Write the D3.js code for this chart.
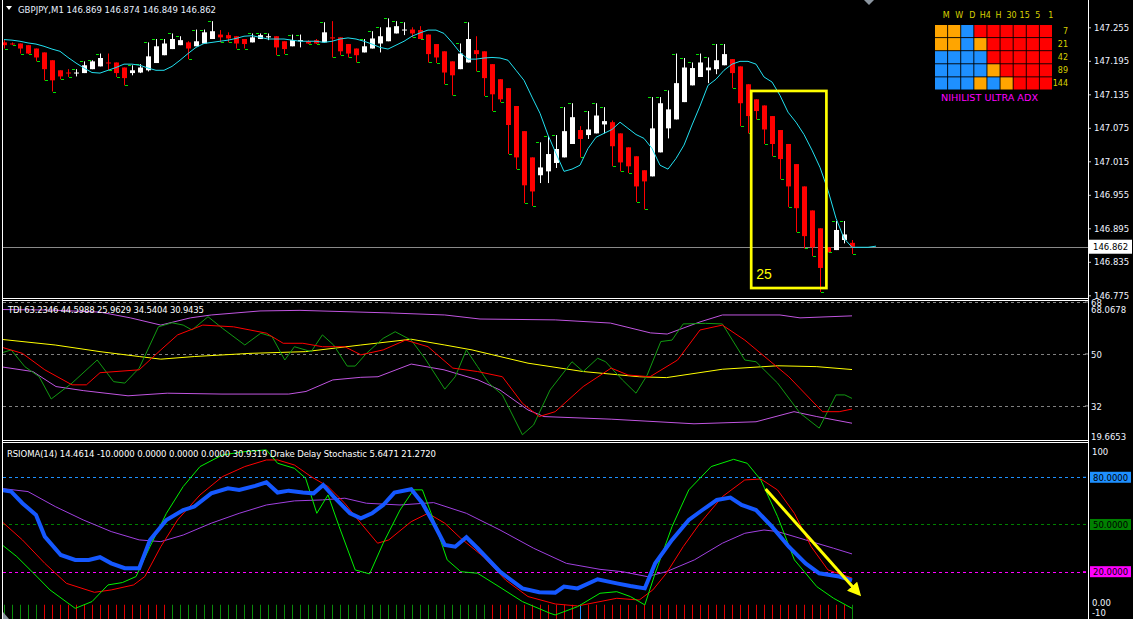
<!DOCTYPE html>
<html><head><meta charset="utf-8">
<script src="https://cdn.jsdelivr.net/npm/d3@7"></script>
<style>
html,body{margin:0;padding:0;background:#000;overflow:hidden}
svg{display:block}
text{font-family:"DejaVu Sans",Tahoma,sans-serif}
</style></head><body><div id="chart"></div>
<script>
// ---- price data (GBPJPY M1) ----
const opens = [147.228,147.226,147.226,147.223,147.217,147.210,147.196,147.178,147.174,147.173,
147.173,147.180,147.185,147.192,147.192,147.183,147.173,147.174,147.178,147.191,
147.205,147.216,147.223,147.228,147.221,147.226,147.234,147.242,147.241,147.239,
147.234,147.228,147.234,147.237,147.239,147.230,147.221,147.230,147.230,147.232,
147.228,147.237,147.237,147.225,147.217,147.210,147.217,147.226,147.230,147.244,
147.250,147.251,147.250,147.242,147.225,147.212,147.194,147.180,147.192,147.214,
147.212,147.189,147.162,147.146,147.114,147.069,147.022,146.990,146.997,147.012,
147.022,147.046,147.071,147.062,147.065,147.081,147.085,147.065,147.040,147.024,
146.999,146.988,147.031,147.074,147.090,147.121,147.151,147.166,147.178,147.180,
147.187,147.198,147.185,147.153,147.126,147.115,147.096,147.071,147.046,147.010,
146.970,146.927,146.895,146.861,146.856,146.874,146.869];
const highs = [147.232,147.228,147.226,147.223,147.217,147.210,147.196,147.178,147.180,147.180,
147.194,147.196,147.208,147.208,147.192,147.183,147.187,147.189,147.228,147.234,
147.234,147.244,147.239,147.230,147.251,147.251,147.266,147.250,147.246,147.239,
147.234,147.244,147.244,147.244,147.239,147.230,147.242,147.242,147.232,147.234,
147.264,147.266,147.237,147.225,147.217,147.234,147.248,147.255,147.271,147.266,
147.264,147.255,147.257,147.242,147.225,147.212,147.194,147.226,147.264,147.239,
147.212,147.189,147.162,147.146,147.114,147.069,147.022,147.049,147.060,147.062,
147.112,147.119,147.078,147.105,147.119,147.112,147.088,147.065,147.040,147.024,
146.999,147.130,147.130,147.142,147.208,147.200,147.192,147.208,147.201,147.225,
147.225,147.198,147.185,147.153,147.126,147.115,147.096,147.071,147.046,147.010,
146.970,146.927,146.895,146.861,146.908,146.908,146.874];
const lows = [147.217,147.223,147.208,147.207,147.194,147.160,147.140,147.162,147.166,147.167,
147.173,147.180,147.185,147.178,147.166,147.151,147.169,147.173,147.176,147.191,
147.205,147.216,147.223,147.198,147.221,147.226,147.234,147.228,147.228,147.217,
147.217,147.228,147.234,147.232,147.205,147.207,147.221,147.219,147.225,147.225,
147.228,147.201,147.205,147.201,147.192,147.210,147.217,147.210,147.230,147.244,
147.241,147.237,147.234,147.192,147.191,147.153,147.133,147.180,147.192,147.176,
147.132,147.105,147.121,147.028,147.001,146.940,146.935,146.976,146.976,147.003,
147.022,147.046,147.022,147.055,147.065,147.065,147.006,146.997,146.994,146.942,
146.929,146.988,147.031,147.056,147.090,147.121,147.151,147.166,147.155,147.171,
147.187,147.146,147.078,147.065,147.090,147.046,147.024,146.983,146.933,146.888,
146.859,146.845,146.781,146.852,146.856,146.868,146.849];
const closes = [147.223,147.225,147.217,147.208,147.201,147.180,147.160,147.167,147.173,147.174,
147.187,147.194,147.200,147.191,147.173,147.164,147.178,147.183,147.203,147.221,
147.226,147.234,147.232,147.217,147.230,147.246,147.248,147.237,147.235,147.226,
147.225,147.237,147.241,147.239,147.219,147.216,147.232,147.232,147.226,147.226,
147.246,147.235,147.212,147.208,147.205,147.221,147.235,147.239,147.255,147.257,
147.251,147.244,147.234,147.207,147.201,147.174,147.169,147.208,147.234,147.207,
147.164,147.135,147.126,147.080,147.022,146.972,146.961,147.004,147.028,147.037,
147.069,147.094,147.055,147.072,147.097,147.087,147.042,147.013,147.006,146.970,
146.979,147.074,147.119,147.108,147.155,147.183,147.182,147.192,147.183,147.196,
147.207,147.173,147.119,147.096,147.105,147.072,147.046,147.019,146.970,146.931,
146.881,146.861,146.824,146.852,146.892,146.884,146.862];
// shifted moving average (runs 3 bars past the last candle)
const maLine = [147.233,147.232,147.230,147.227,147.225,147.221,147.216,147.212,147.201,147.191,
147.182,147.174,147.173,147.178,147.183,147.189,147.189,147.187,147.182,147.178,
147.178,147.185,147.196,147.208,147.219,147.226,147.228,147.230,147.232,147.235,
147.239,147.240,147.237,147.234,147.234,147.234,147.232,147.230,147.230,147.230,
147.228,147.230,147.234,147.236,147.234,147.230,147.225,147.219,147.216,147.223,
147.230,147.239,147.245,147.250,147.250,147.244,147.228,147.210,147.198,147.198,
147.200,147.201,147.200,147.196,147.178,147.160,147.130,147.101,147.062,147.029,
146.997,147.001,147.008,147.038,147.058,147.065,147.072,147.085,147.074,147.063,
147.056,147.038,147.008,147.001,147.020,147.044,147.080,147.114,147.151,147.162,
147.178,147.189,147.194,147.194,147.189,147.166,147.157,147.133,147.103,147.085,
147.063,147.035,147.004,146.963,146.913,146.877,146.861,146.861,146.861,146.863];
const priceTicks = [147.255,147.195,147.135,147.075,147.015,146.955,146.895,146.835,146.775];
const bidPrice = 146.862;

// ---- TDI, points are [bar, value] ----
const tdiUpper = [[-0.5,65.4],[5.8,65.2],[12,64.5],[15.8,62.5],[19.6,60.0],[23.3,62.5],[25.9,63.5],[32,64.9],[37,65.1],[48.3,64.2],[55.1,63.5],[59.5,62.1],[68.9,61.8],[75.8,60.7],[80.8,57.3],[82.9,56.9],[87,61.1],[89.8,63.5],[97,63.5],[99.5,62.5],[106,63.2]];
const tdiLower = [[-0.5,45.6],[3.6,43.9],[6.5,38.7],[9.9,37.3],[15.5,35.5],[20.4,36.4],[27.25,36.1],[35.6,36.1],[37.75,37.0],[41.1,41.0],[44.6,41.9],[46.75,42.1],[50.9,46.5],[55,44.5],[59.25,41.0],[62,37.5],[65.5,30.6],[67.5,28.3],[75.9,27.4],[86.25,25.8],[94,26.5],[98.75,30.0],[101.6,28.3],[106,26.0]];
const tdiMid = [[-0.5,55.1],[6.4,53.1],[12.0,50.8],[16.9,49.1],[19.6,48.2],[23.8,49.1],[30.75,50.2],[37.7,50.8],[44.6,53.1],[50.9,55.1],[55.1,53.1],[58.5,51.4],[65.5,46.8],[72.4,43.9],[79.4,42.1],[82.8,41.8],[89.8,44.7],[96.7,45.9],[101.6,45.6],[106,44.6]];
const tdiPrice = [[-0.5,50.2],[0.9,51.4],[2.6,45.6],[4.4,42.1],[5.9,34.4],[8.5,39.9],[11.65,47.9],[13.7,40.4],[15.1,39.9],[16.9,45.1],[19.3,59.4],[21.0,60.8],[22.4,60.0],[23.5,58.3],[25.5,62.9],[27.3,58.9],[30.1,53.1],[32.1,57.2],[33.5,56.0],[35.1,47.9],[36.3,52.5],[38.4,50.8],[39.8,56.6],[41.2,53.1],[42.9,45.8],[43.9,45.8],[45.3,50.2],[47.4,55.4],[48.9,57.7],[50.9,54.8],[52.6,48.5],[55.1,37.8],[56.4,42.1],[57.8,51.4],[59.2,45.6],[60.6,39.9],[62.3,35.8],[64.8,22.0],[66.2,25.4],[68.25,37.5],[71.0,47.3],[72.4,43.9],[74.2,48.5],[75.2,47.3],[77.3,41.0],[79.0,36.4],[80.4,42.7],[82.1,54.3],[83.5,54.8],[84.9,60.4],[87.7,60.6],[89.8,60.4],[92.6,47.9],[94.0,47.3],[96.7,39.9],[99.5,29.5],[101.9,24.3],[104.0,35.8],[105.1,35.8],[106.0,34.6]];
const tdiSignal = [[-0.5,52.5],[2.3,50.2],[5.1,44.5],[8.5,39.3],[10.3,39.3],[12.0,43.5],[16.9,44.5],[19.6,51.4],[21.7,56.6],[24.85,60.0],[28.7,59.4],[30.75,58.3],[32.8,57.2],[34.9,53.7],[37.35,53.7],[39.8,52.5],[42.6,52.5],[44.6,49.7],[47.4,51.4],[50.2,54.8],[53.0,52.5],[56.1,45.1],[59.2,43.9],[62.3,42.1],[64.8,32.9],[66.9,28.3],[68.9,30.0],[72.4,38.7],[75.9,45.1],[78.0,42.7],[80.75,42.1],[84.2,47.9],[87.0,58.3],[89.8,60.0],[92.6,54.8],[98.1,42.1],[102.3,30.0],[104.4,30.0],[106.0,30.9]];
const tdiLevels = [68, 50, 32];

// ---- RSIOMA / Drake Delay Stochastic, points are [bar, value] ----
const rsiBlue = [[-0.5,72],[0.9,70.9],[2.3,63.5],[4.0,56.1],[5.1,42.3],[7.1,30.6],[8.9,27.5],[10.6,27.5],[12.0,29.2],[13.4,25.3],[15.1,22.2],[16.9,22.2],[18.25,40.2],[20.3,52.9],[22.4,59.2],[23.8,61.4],[25.9,69.8],[28.0,73],[29.4,72],[31.4,74.5],[32.8,76.8],[34.2,70.3],[35.6,71.5],[37.35,70.3],[38.7,69.8],[39.9,75.1],[41.2,67.7],[43.25,57.1],[44.6,53.9],[46.0,57.1],[47.4,62.4],[48.8,70.3],[50.9,72.4],[52.3,63.5],[53.7,50.8],[55.1,37],[56.4,35.9],[57.8,41.9],[59.2,34.9],[62.0,20],[64.8,9.4],[66.9,6.9],[68.9,6.7],[70.0,10.5],[71.7,9.4],[74.2,15.2],[76.6,12.6],[78.3,10.9],[80.1,9.4],[81.4,25.3],[83.5,40.2],[85.6,52.9],[87.3,59.2],[89.1,65.6],[90.8,67.1],[92.2,62.4],[94.0,59.2],[96.0,48.6],[98.1,35.9],[100.2,25.3],[101.9,19],[104.4,16.9],[106.0,14.5]];
const rsiRed = [[-0.5,52.9],[2.3,40.2],[5.1,25.3],[7.8,12.6],[11.3,6.9],[13.4,8.4],[16.2,11.6],[17.6,16.9],[19.6,35.9],[21.7,52.9],[24.5,68.8],[27.3,80.4],[30.1,86.8],[32.8,91],[34.2,91],[36.3,87.8],[38.4,80.4],[40.5,74.1],[42.6,63.5],[44.6,50.8],[46.7,38.1],[48.1,40.2],[50.9,51.8],[53.0,57.1],[55.1,50.8],[57.1,41.2],[59.9,29.6],[62.7,14.7],[65.5,4.2],[68.9,-0.5],[71.7,-1.8],[74.5,1],[76.6,3.1],[79.4,2.0],[81.1,8.4],[82.8,19],[84.9,35.9],[87.0,50.8],[89.8,67.7],[92.6,78.3],[94.6,78.9],[96.7,71.9],[98.8,57.1],[100.9,35.9],[103.0,21.1],[106.0,16]];
const rsiGreen = [[-0.5,38.1],[1.6,29.6],[3.7,19],[5.75,8.4],[8.9,-3.3],[11.0,1],[13.0,11.6],[14.8,13.1],[16.5,16.9],[18.25,35.9],[20.3,57.1],[22.4,74.1],[24.5,86.8],[27.3,94.2],[30.1,96.3],[32.8,97.4],[34.2,88.9],[36.3,85.7],[37.7,79.4],[39.1,57.1],[40.5,68.8],[41.9,48.6],[43.9,21.1],[45.7,18.6],[47.4,38.1],[49.5,59.2],[51.2,72],[52.3,72],[53.7,52.9],[55.4,27.5],[57.1,20],[59.2,19],[62.0,10.1],[64.8,1],[68.25,-6.4],[68.9,-7.5],[71.7,-2.2],[74.5,6.3],[76.6,7.3],[78.3,4.2],[80.1,-1.1],[81.4,19],[83.5,48.6],[85.6,72],[88.4,86.8],[91.2,91.4],[92.9,88.9],[94.6,78.3],[96.7,55],[98.8,27.5],[101.6,10.5],[103.7,3.1],[106.0,-3.3]];
const rsiPurple = [[-0.5,73],[3.0,70.9],[6.4,61.4],[9.9,52.9],[13.4,45.5],[16.9,40.2],[19.6,39.1],[22.4,43.3],[25.9,50.8],[29.4,57.1],[32.8,62.4],[36.3,65],[39.8,65.6],[42.6,66.7],[45.3,63.5],[49.5,62.4],[53.7,63.9],[57.8,57.1],[62.0,46.5],[66.2,34.9],[70.3,25.3],[74.5,21.5],[77.3,20],[80.4,16.9],[82.8,20],[86.3,27.5],[89.8,38.1],[92.6,44.4],[95.0,46.5],[96.7,45.5],[100.2,40.2],[103.7,34.9],[106.0,31.3]];
const rsiLevels = [80, 50, 20];
const rsiLevelColors = ["#1e90ff", "#008000", "#ff00ff"];
// histogram colour per bar: g green, r red, b blue
const histState = "gggggrrrrrrrrrrrrrrrrggggggggggggggggggggggggggggggggggggggggrrrrrrrrrrrbrrrrrrrrrrrrrrrrrrrrrrrrrrrrrrrrr";

// ---- Nihilist Ultra ADX grid ----
const adxFrames = ["M","W","D","H4","H","30","15","5","1"];
const adxPeriods = ["7","21","42","89","144"];
const adxRows = ["OOBRRRRRR","OOBORRRRR","BBBBRRRRR","BBBBORRRR","BBBOBORRR"];
const adxPalette = {O:"#ffa500", B:"#1e90ff", R:"#ff0000"};

// ---- annotations ----
const boxBars = [93.4, 102.8], boxPrices = [147.141, 146.788];
const arrowFrom = [95.2, 72.6], arrowTo = [106.8, 6.3];

const W = 1133, H = 619;
const svg = d3.select("#chart").append("svg").attr("width", W).attr("height", H).style("background", "#000");
const axisX = 1088;

const x = d3.scaleLinear().domain([0, 106]).range([4, 852]);
const yMain = d3.scaleLinear().domain([146.775, 147.255]).range([295.3, 27.3]);
const yTdi = d3.scaleLinear().domain([19.6653, 68.0678]).range([441.5, 301.8]);
const yRsi = d3.scaleLinear().domain([-10, 100]).range([618.9, 445.8]);

const defs = svg.append("defs");
function clip(id, y0, y1) {
  defs.append("clipPath").attr("id", id).append("rect").attr("x", 3).attr("y", y0).attr("width", axisX - 3).attr("height", y1 - y0);
}
clip("cMain", 0, 298); clip("cTdi", 301, 440); clip("cRsi", 443, 619);

// ---------- main panel ----------
const main = svg.append("g").attr("clip-path", "url(#cMain)");
main.append("line").attr("x1", 3).attr("x2", axisX).attr("y1", Math.round(yMain(bidPrice)) + 0.5).attr("y2", Math.round(yMain(bidPrice)) + 0.5)
  .attr("stroke", "#8a8a8a");

const bars = d3.range(opens.length);
const up = i => closes[i] >= opens[i];
main.selectAll(".wick").data(bars).enter().append("line")
  .attr("x1", i => x(i) + 0.5).attr("x2", i => x(i) + 0.5)
  .attr("y1", i => yMain(highs[i])).attr("y2", i => yMain(lows[i]))
  .attr("stroke", i => up(i) ? "#fff" : "#ff0000");
main.selectAll(".body").data(bars).enter().append("rect")
  .attr("x", i => x(i) - 2).attr("width", 5)
  .attr("y", i => yMain(Math.max(opens[i], closes[i])))
  .attr("height", i => Math.max(1, Math.abs(yMain(opens[i]) - yMain(closes[i]))))
  .attr("fill", i => up(i) ? "#fff" : "#ff0000");
// small green marks at the wick tips
main.selectAll(".mark").data(bars).enter().append("line")
  .attr("x1", i => up(i) ? x(i) - 4 : x(i) + 1)
  .attr("x2", i => up(i) ? x(i) - 1 : x(i) + 4)
  .attr("y1", i => Math.round(yMain(up(i) ? highs[i] : lows[i])) + 0.5)
  .attr("y2", i => Math.round(yMain(up(i) ? highs[i] : lows[i])) + 0.5)
  .attr("stroke", "#00e000");

main.append("path").datum(maLine)
  .attr("d", d3.line().x((d, i) => x(i)).y(d => yMain(d)))
  .attr("fill", "none").attr("stroke", "#22e0f0").attr("stroke-width", 1);

// annotation box
main.append("rect")
  .attr("x", x(boxBars[0])).attr("y", yMain(boxPrices[0]))
  .attr("width", x(boxBars[1]) - x(boxBars[0])).attr("height", yMain(boxPrices[1]) - yMain(boxPrices[0]))
  .attr("fill", "none").attr("stroke", "#ffff00").attr("stroke-width", 2.7);
main.append("text").attr("x", x(boxBars[0]) + 5).attr("y", yMain(boxPrices[1]) - 9)
  .attr("fill", "#ffff00").attr("font-size", 14).style("font-family", "Liberation Sans, Arial").text("25");

// header
svg.append("path").attr("d", "M6,6 L12,6 L9,10 Z").attr("fill", "#fff");
svg.append("text").attr("x", 18).attr("y", 13).attr("fill", "#e8f0ff").attr("font-size", 9)
  .attr("textLength", 198).attr("lengthAdjust", "spacingAndGlyphs")
  .text("GBPJPY,M1  146.869 146.874 146.849 146.862");
svg.append("path").attr("d", "M864,0 L874,0 L869,5 Z").attr("fill", "#8c96a0");

// ADX grid
const colBand = d3.scaleBand().domain(adxFrames).range([935, 1052]).paddingInner(0.07);
const rowBand = d3.scaleBand().domain(adxPeriods).range([25, 89.5]).paddingInner(0.07);
adxRows.forEach((row, r) => {
  row.split("").forEach((c, k) => {
    svg.append("rect").attr("x", colBand(adxFrames[k])).attr("y", rowBand(adxPeriods[r]))
      .attr("width", colBand.bandwidth()).attr("height", rowBand.bandwidth()).attr("fill", adxPalette[c]);
  });
});
svg.selectAll(".adxc").data(adxFrames).enter().append("text")
  .attr("x", d => colBand(d) + colBand.bandwidth() / 2 + 5).attr("y", 18)
  .attr("text-anchor", "middle").attr("fill", "#d8d000").attr("font-size", 8).text(d => d);
svg.selectAll(".adxr").data(adxPeriods).enter().append("text")
  .attr("x", 1068).attr("y", d => rowBand(d) + rowBand.bandwidth() / 2 + 3)
  .attr("text-anchor", "end").attr("fill", "#d8d000").attr("font-size", 8).text(d => d);
svg.append("text").attr("x", 941).attr("y", 101).attr("fill", "#ff00ff").attr("font-size", 9)
  .attr("textLength", 97).attr("lengthAdjust", "spacingAndGlyphs").text("NIHILIST ULTRA ADX");

// price axis
const pAxis = svg.append("g").attr("transform", `translate(${axisX},0)`)
  .call(d3.axisRight(yMain).tickValues(priceTicks).tickFormat(d3.format(".3f")).tickSize(3).tickPadding(3));
pAxis.select(".domain").remove();
pAxis.selectAll("line").attr("stroke", "#c8c8c8");
pAxis.selectAll("text").attr("fill", "#f0f4ff").attr("font-size", 8.5).style("font-family", "DejaVu Sans");
const by = yMain(bidPrice);
svg.append("rect").attr("x", 1089).attr("y", by - 7).attr("width", 43).attr("height", 14).attr("fill", "#fff");
svg.append("text").attr("x", 1093).attr("y", by + 3.5).attr("fill", "#000").attr("font-size", 8.5).text("146.862");

// ---------- TDI panel ----------
const tdi = svg.append("g").attr("clip-path", "url(#cTdi)");
tdi.selectAll(".lvl").data(tdiLevels).enter().append("line")
  .attr("x1", 3).attr("x2", axisX).attr("y1", d => Math.round(yTdi(d)) + 0.5).attr("y2", d => Math.round(yTdi(d)) + 0.5)
  .attr("stroke", "#808080").attr("stroke-dasharray", "3,3");
const lTdi = d3.line().x(d => x(d[0])).y(d => yTdi(d[1]));
[[tdiUpper, "#c055e0"], [tdiLower, "#c055e0"], [tdiMid, "#ffff00"], [tdiPrice, "#129a12"], [tdiSignal, "#ff0000"]]
  .forEach(([d, c]) => tdi.append("path").datum(d).attr("d", lTdi).attr("fill", "none").attr("stroke", c).attr("stroke-width", 1));
svg.append("text").attr("x", 8).attr("y", 313).attr("fill", "#fff").attr("font-size", 8.5)
  .attr("textLength", 196).attr("lengthAdjust", "spacing").text("TDI 63.2346 44.5988 25.9629 34.5404 30.9435");
const tdiLabels = [[68, "68", 1], [68.0678, "68.0678", 8], [50, "50", 1], [32, "32", 1], [19.6653, "19.6653", -5]];
tdiLabels.forEach(([v, t, dy]) => {
  svg.append("text").attr("x", 1091).attr("y", yTdi(v) + dy + 3).attr("fill", "#f0f4ff").attr("font-size", 8.5).text(t);
});
tdiLevels.forEach(v => svg.append("line").attr("x1", 1085).attr("x2", 1088).attr("y1", yTdi(v)).attr("y2", yTdi(v)).attr("stroke", "#909090"));

// ---------- RSIOMA panel ----------
const rsi = svg.append("g").attr("clip-path", "url(#cRsi)");
rsi.selectAll(".lvl").data(rsiLevels).enter().append("line")
  .attr("x1", 3).attr("x2", axisX).attr("y1", d => Math.round(yRsi(d)) + 0.5).attr("y2", d => Math.round(yRsi(d)) + 0.5)
  .attr("stroke", (d, i) => rsiLevelColors[i]).attr("stroke-dasharray", "3,3");
rsi.selectAll(".hist").data(bars).enter().append("line")
  .attr("x1", i => x(i) + 0.5).attr("x2", i => x(i) + 0.5)
  .attr("y1", yRsi(-1)).attr("y2", H)
  .attr("stroke", i => histState[i] === "r" ? "#e00000" : histState[i] === "b" ? "#1e90ff" : "#0a8a0a");
const lRsi = d3.line().x(d => x(d[0])).y(d => yRsi(d[1]));
[[rsiPurple, "#a040e0", 1], [rsiRed, "#ff0000", 1], [rsiGreen, "#00f000", 1], [rsiBlue, "#1558ff", 4]]
  .forEach(([d, c, w]) => rsi.append("path").datum(d).attr("d", lRsi).attr("fill", "none").attr("stroke", c).attr("stroke-width", w));
rsi.append("path").attr("d", "M3,612 L3,619 L9,619 Z").attr("fill", "#8c96a0");

// arrow annotation
defs.append("marker").attr("id", "ah").attr("viewBox", "0 0 10 10").attr("refX", 7).attr("refY", 5)
  .attr("markerWidth", 4.5).attr("markerHeight", 4.5).attr("orient", "auto")
  .append("path").attr("d", "M0,0 L10,5 L0,10 Z").attr("fill", "#ffff00");
svg.append("line").attr("x1", x(arrowFrom[0])).attr("y1", yRsi(arrowFrom[1]))
  .attr("x2", x(arrowTo[0])).attr("y2", yRsi(arrowTo[1]))
  .attr("stroke", "#ffff00").attr("stroke-width", 3).attr("marker-end", "url(#ah)");

svg.append("text").attr("x", 7).attr("y", 457).attr("fill", "#fff").attr("font-size", 8.5)
  .attr("textLength", 429).attr("lengthAdjust", "spacing")
  .text("RSIOMA(14) 14.4614 -10.0000 0.0000 0.0000 0.0000 30.9319  Drake Delay Stochastic 5.6471 21.2720");
[[100, "100", 6], [0, "0.00", 0], [-10, "-10", -6]].forEach(([v, t, dy]) => {
  svg.append("text").attr("x", 1092).attr("y", yRsi(v) + dy + 3).attr("fill", "#f0f4ff").attr("font-size", 8.5).text(t);
});
rsiLevels.forEach((v, i) => {
  const yy = yRsi(v);
  svg.append("line").attr("x1", 1083).attr("x2", 1086).attr("y1", yy).attr("y2", yy).attr("stroke", rsiLevelColors[i]);
  svg.append("rect").attr("x", 1090).attr("y", yy - 5.5).attr("width", 41).attr("height", 11).attr("fill", rsiLevelColors[i]);
  svg.append("text").attr("x", 1093).attr("y", yy + 3.5).attr("fill", "#000").attr("font-size", 8.5).text(d3.format(".4f")(v));
});

// ---------- frames ----------
const fr = svg.append("g").attr("stroke", "#fff").attr("stroke-width", 1);
fr.append("line").attr("x1", 2.5).attr("x2", 2.5).attr("y1", 0).attr("y2", H);
fr.append("line").attr("x1", axisX + 0.5).attr("x2", axisX + 0.5).attr("y1", 0).attr("y2", H);
[298.5, 300.5, 440.5, 442.5].forEach(yy => fr.append("line").attr("x1", 2).attr("x2", axisX + 1).attr("y1", yy).attr("y2", yy));
</script>
</body></html>
